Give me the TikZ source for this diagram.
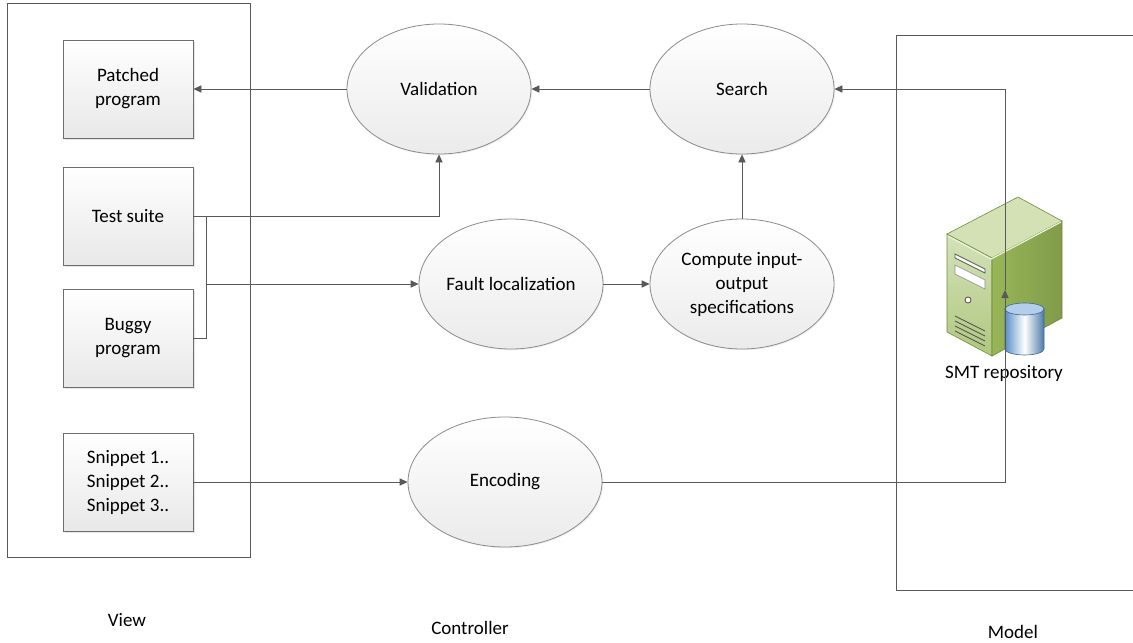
\documentclass[tikz,border=0pt]{standalone}
\usepackage{fontspec}
\setmainfont{Carlito}
\usetikzlibrary{shapes.geometric,arrows.meta,shadows}

\definecolor{linegray}{HTML}{595959}
\definecolor{boxline}{HTML}{6E6E6E}
\definecolor{srvfront}{HTML}{C3D69B}
\definecolor{srvfrontlo}{HTML}{AFC77F}
\definecolor{srvtop}{HTML}{D3E1B4}
\definecolor{srvside}{HTML}{98B657}
\definecolor{srvline}{HTML}{6F8A3A}
\definecolor{cylblue}{HTML}{5B8FC7}
\definecolor{cyltop}{HTML}{B3CDEA}
\definecolor{cylline}{HTML}{3C6796}

\begin{document}
\begin{tikzpicture}[x=0.5pt, y=-0.5pt,
		font=\fontsize{9.5}{12}\selectfont,
		box/.style={draw=boxline, rectangle, top color=white, bottom color=black!9, minimum width=65pt, minimum height=49pt, align=center, drop shadow={opacity=0.2, shadow xshift=0.8pt, shadow yshift=-0.8pt}},
		proc/.style={draw=boxline!80, ellipse, top color=white, bottom color=black!8, minimum width=92pt, minimum height=65pt, inner sep=0pt, align=center, drop shadow={opacity=0.12, shadow xshift=0.6pt, shadow yshift=-0.6pt}},
		conn/.style={draw=linegray, -{Triangle[length=4pt, width=3.6pt]}},
		wire/.style={draw=linegray},
		frame/.style={draw=linegray}]
		\useasboundingbox (0,0) rectangle (1133,642);
	
		% 枠を描画
		\draw[frame] (7,3) rectangle (250,557);
		\draw[frame] (1133,35) -| (896,590) -- (1133,590);
	
		% ボックスを描画
		\node[box] (P) at (128,89) {Patched\\program};
		\node[box] (T) at (128,216) {Test suite};
		\node[box] (B) at (128,338) {Buggy\\program};
		\node[box] (S) at (128,482) {Snippet 1..\\Snippet 2..\\Snippet 3..};
	
		% 楕円を描画
		\node[proc] (V) at (439,89) {Validation};
		\node[proc] (R) at (742,89) {Search};
		\node[proc] (F) at (511,284) {Fault localization};
		\node[proc] (C) at (742,284) {Compute input-\\output\\specifications};
		\node[proc, minimum width=97pt] (E) at (505,482) {Encoding};
	
		% サーバーを描画
		\shade[top color=srvfront!70!white, bottom color=srvfrontlo, draw=srvline, line width=0.3pt] (947,234) -- (992,258) -- (992,356) -- (947,332) -- cycle;
		\fill[srvtop, draw=srvline, line width=0.3pt] (947,234) -- (1018,197) -- (1062,221) -- (992,258) -- cycle;
		\shade[left color=srvside, right color=srvside!85!black, draw=srvline, line width=0.3pt] (992,258) -- (1062,221) -- (1062,318) -- (992,356) -- cycle;
		\draw[white!70!srvfront, line width=0.6pt] (948,236) -- (991,259) -- (1061,222);
		\filldraw[fill=white!85!srvfront, draw=black!65, line width=0.4pt] (955,254) -- (985,269) -- (985,273) -- (955,258) -- cycle;
		\filldraw[fill=white, draw=black!45, line width=0.3pt] (955,265) -- (985,280) -- (985,289) -- (955,274) -- cycle;
		\filldraw[fill=white, draw=black!70, line width=0.4pt] (968,300) circle[radius=3];
		\foreach \k in {0,...,3}
			\draw[black!70, line width=0.4pt] (955,{316+5*\k}) -- (985,{331+5*\k});
		\shade[left color=cylblue, right color=cylblue!85!black, middle color=white, draw=cylline, line width=0.3pt] (1005,309) -- (1005,349) arc[start angle=180, end angle=0, x radius=19.5, y radius=6] -- (1044,309) -- cycle;
		\filldraw[fill=cyltop, draw=cylline, line width=0.3pt] (1024.5,309) ellipse[x radius=19.5, y radius=6];
		\node (M) at (1004,373) {SMT repository};
	
		% ラベルを描画
		\node (view) at (127,620) {View};
		\node (ctrl) at (470,628) {Controller};
		\node (model) at (1013,632) {Model};
	
		% エッジを描画
		\coordinate (jt) at (206,216);
		\coordinate (jm) at (206,284);
		\coordinate (jb) at (206,338);
		\coordinate (up) at (1005,482);
		\coordinate (mid) at (1005,290);
		\coordinate (top) at (1005,89);
		\draw[conn] (V) -- (P);
		\draw[conn] (R) -- (V);
		\draw[conn] (T.east) -| (V.south);
		\draw[wire] (T.east) -- (jt) -- (jb) -- (B.east);
		\draw[conn] (jm) -- (F.west);
		\draw[conn] (F) -- (C);
		\draw[conn] (C) -- (R);
		\draw[conn] (S) -- (E);
		\draw[conn] (E.east) -- (up) -- (mid);
		\draw[conn] (mid) -- (top) -- (R.east);
	\end{tikzpicture}
\end{document}
